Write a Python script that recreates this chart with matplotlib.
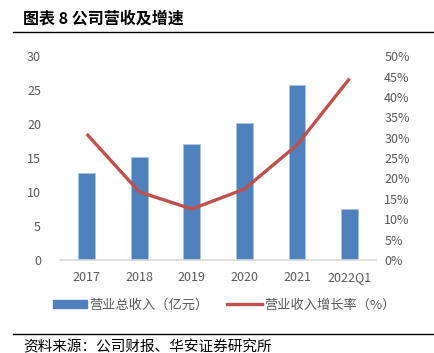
import matplotlib.pyplot as plt
import numpy as np
from matplotlib.lines import Line2D
from matplotlib.patches import Patch

plt.rcParams['font.family'] = ['Noto Sans CJK SC', 'DejaVu Sans']

# data
years = ["2017", "2018", "2019", "2020", "2021", "2022Q1"]
revenue = [12.85, 15.1, 17.05, 20.1, 25.7, 7.5]        # 亿元
growth = [30.9, 16.7, 12.5, 17.4, 28.2, 44.5]         # %

fig = plt.figure(figsize=(4.35, 3.53), dpi=100)
ax = fig.add_axes([0.139, 0.2635, 0.725, 0.5775])
ax2 = ax.twinx()

x = np.arange(len(years))
ax.bar(x, revenue, width=0.32, color='#4F81BD', edgecolor='#A9C1E3', linewidth=0.6, zorder=2)
ax2.plot(x, growth, color='#C0504D', linewidth=2.4, solid_capstyle='butt', zorder=3)

ax.set_xlim(-0.5, len(years) - 0.5)
ax.set_ylim(0, 30)
ax.set_yticks(range(0, 31, 5))
ax2.set_ylim(0, 50)
ax2.set_yticks(range(0, 51, 5))
ax2.set_yticklabels([f"{v}%" for v in range(0, 51, 5)])
ax.set_xticks(x)
ax.set_xticklabels(years)

grey = '#595959'
for a in (ax, ax2):
    for s in a.spines.values():
        s.set_visible(False)
    a.tick_params(length=0, labelsize=9, colors=grey)
ax.spines['bottom'].set_visible(True)
ax.spines['bottom'].set_color('#D9D9D9')
ax.spines['bottom'].set_linewidth(1.2)
ax.tick_params(axis='y', pad=14)
ax2.tick_params(axis='y', pad=6)
ax.tick_params(axis='x', pad=8)

# legend
handles = [Patch(facecolor='#4F81BD', edgecolor='#4F81BD'),
           Line2D([0], [0], color='#C0504D', linewidth=2.4)]
labels = ["营业总收入（亿元）", "营业收入增长率（%）"]
fig.legend(handles, labels, loc='center', bbox_to_anchor=(0.515, 0.135), ncol=2,
           frameon=False, fontsize=9.5, labelcolor=grey, handlelength=2.6,
           handleheight=0.6, handletextpad=0.2, columnspacing=1.4)

# title and page elements
fig.text(0.052, 0.948, "图表 8 公司营收及增速", fontsize=11.5, fontweight='bold',
         ha='left', va='center', color='black')
fig.add_artist(Line2D([0.03, 1.0], [0.909, 0.909], color='black', linewidth=1.0))
fig.add_artist(Line2D([0.03, 1.0], [0.054, 0.054], color='black', linewidth=1.0))
fig.text(0.053, 0.016, "资料来源：公司财报、华安证券研究所", fontsize=10.5,
         ha='left', va='center', color='black')

fig.savefig("out.png", dpi=100)
